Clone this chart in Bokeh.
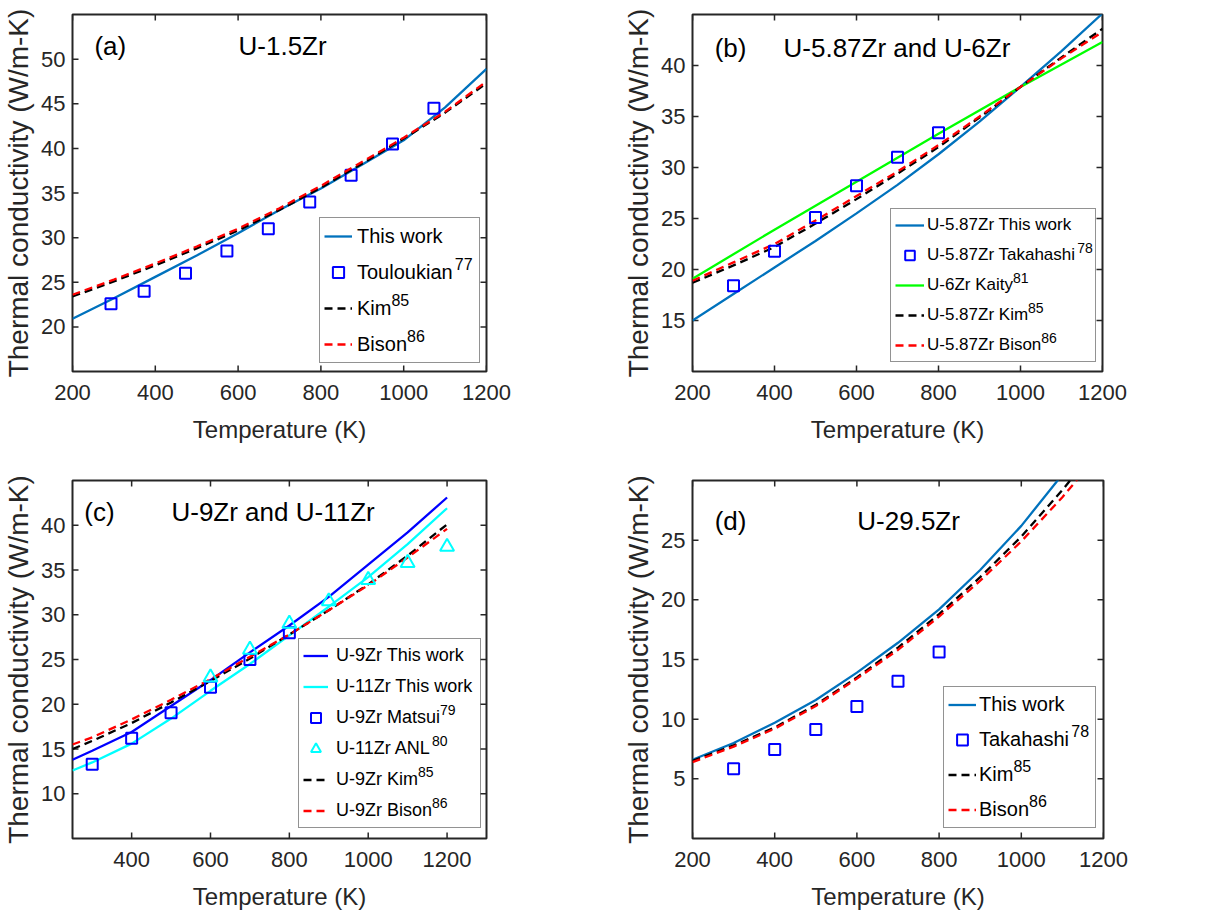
from bokeh.plotting import figure
from bokeh.layouts import row, column
from bokeh.models import Legend, LegendItem, FixedTicker, Label, Range1d
from bokeh.embed import file_html
from bokeh.resources import INLINE

FONT = "Liberation Sans"
AXC = "#262626"
C_TW = "#0072BD"
C_B = "#0000FF"
C_G = "#00FF00"
C_C = "#00FFFF"
C_K = "#000000"
C_R = "#FF0000"
DASH = "8 5"

# ---------------- data ----------------
T_curve = [200, 300, 400, 500, 600, 700, 800, 900, 1000, 1100, 1200]

# (a) U-1.5Zr
a_this_work = [20.9, 23.2, 25.6, 28.0, 30.5, 33.1, 35.5, 38.2, 40.9, 44.6, 48.9]
a_kim = [23.4, 25.1, 26.9, 28.8, 30.8, 33.1, 35.6, 38.3, 41.1, 44.0, 47.3]
a_bison = [23.6, 25.3, 27.1, 29.0, 31.0, 33.3, 35.8, 38.5, 41.2, 44.1, 47.5]
a_toul_T = [293, 373, 473, 573, 673, 773, 873, 973, 1073]
a_toul = [22.6, 24.0, 26.0, 28.5, 31.0, 34.0, 37.0, 40.5, 44.5]

# (b) U-5.87Zr and U-6Zr
b_this_work = [15.0, 17.6, 20.2, 22.8, 25.5, 28.3, 31.3, 34.5, 37.9, 41.4, 45.1]
b_kim = [18.7, 20.4, 22.2, 24.5, 26.9, 29.4, 32.0, 34.9, 37.9, 40.8, 43.6]
b_bison = [18.9, 20.7, 22.5, 24.8, 27.2, 29.6, 32.2, 35.0, 37.9, 40.7, 43.3]
b_kaity_T = [200, 400, 600, 800, 1000, 1200]
b_kaity = [19.1, 23.9, 28.6, 33.3, 37.9, 42.3]
b_taka_T = [300, 400, 500, 600, 700, 800]
b_taka = [18.4, 21.8, 25.1, 28.2, 31.0, 33.4]

# (c) U-9Zr and U-11Zr
T_c = [250, 300, 400, 500, 600, 700, 800, 900, 1000, 1100, 1200]
c_9zr_this_work = [13.8, 14.8, 16.9, 19.8, 22.7, 25.8, 28.8, 32.0, 35.6, 39.2, 43.1]
c_11zr_this_work = [12.6, 13.5, 15.6, 18.4, 21.5, 24.5, 27.7, 30.9, 34.2, 37.9, 41.9]
c_kim = [15.0, 15.9, 17.9, 20.2, 22.6, 25.1, 27.8, 30.5, 33.4, 36.6, 40.1]
c_bison = [15.5, 16.3, 18.3, 20.5, 22.8, 25.3, 27.8, 30.5, 33.3, 36.4, 39.6]
c_matsui_T = [300, 400, 500, 600, 700, 800]
c_matsui = [13.3, 16.2, 19.05, 21.9, 25.0, 28.0]
c_anl_T = [600, 700, 800, 900, 1000, 1100, 1200]
c_anl = [23.0, 26.1, 29.0, 31.5, 33.9, 35.8, 37.6]

# (d) U-29.5Zr
d_this_work = [6.6, 8.0, 9.7, 11.6, 13.9, 16.4, 19.2, 22.5, 26.2, 30.5, 35.0]
d_kim = [6.5, 7.8, 9.3, 11.2, 13.5, 16.0, 18.8, 21.9, 25.3, 29.2, 33.5]
d_bison = [6.4, 7.7, 9.2, 11.1, 13.4, 15.8, 18.6, 21.6, 24.9, 28.6, 32.7]
d_taka_T = [300, 400, 500, 600, 700, 800]
d_taka = [5.84, 7.46, 9.14, 11.07, 13.17, 15.63]

x_ticks_full = [200, 400, 600, 800, 1000, 1200]
x_ticks_c = [400, 600, 800, 1000, 1200]
y_ticks_a = [20, 25, 30, 35, 40, 45, 50]
y_ticks_b = [15, 20, 25, 30, 35, 40]
y_ticks_c = [10, 15, 20, 25, 30, 35, 40]
y_ticks_d = [5, 10, 15, 20, 25]

# Liberation Sans (Arial metrics) advance widths per 1000 em, for legend superscript placement
WIDTHS = {" ": 278, "-": 333, ".": 278, "A": 667, "B": 667, "K": 667, "L": 556, "M": 833,
          "N": 722, "T": 611, "U": 722, "Z": 611, "a": 556, "h": 556, "i": 222, "k": 500,
          "l": 222, "m": 833, "n": 556, "o": 556, "r": 333, "s": 500, "t": 278, "u": 556,
          "w": 722, "y": 500}
TICK_LEN = 6  # px, inward ticks on all four sides


def text_width(s, fs):
    return sum(WIDTHS.get(ch, 556) for ch in s) * fs / 1000.0


class Panel:
    def __init__(self, xr, yr, xt, yt, bl, br, bt, bb, fw, fh):
        self.xr, self.yr, self.fw, self.fh = xr, yr, fw, fh
        self.kx = fw / (xr[1] - xr[0])   # px per data unit
        self.ky = fh / (yr[1] - yr[0])
        p = figure(x_range=Range1d(*xr), y_range=Range1d(*yr), frame_width=fw, frame_height=fh,
                   min_border_left=bl, min_border_right=br, min_border_top=bt, min_border_bottom=bb,
                   output_backend="svg", toolbar_location=None,
                   x_axis_label="Temperature (K)", y_axis_label="Thermal conductivity (W/m-K)")
        p.xgrid.visible = False
        p.ygrid.visible = False
        p.outline_line_color = AXC
        p.outline_line_width = 2
        p.outline_line_alpha = 1
        p.background_fill_color = "white"
        p.border_fill_color = "white"
        xa = p.xaxis[0]
        ya = p.yaxis[0]
        xa.ticker = FixedTicker(ticks=xt)
        ya.ticker = FixedTicker(ticks=yt)
        for ax in (xa, ya):
            ax.axis_line_color = None
            ax.major_tick_in = 0
            ax.major_tick_out = 0
            ax.major_tick_line_color = None
            ax.minor_tick_line_color = None
            ax.major_label_text_font = FONT
            ax.major_label_text_font_size = "22px"
            ax.major_label_text_color = AXC
            ax.axis_label_text_font = FONT
            ax.axis_label_text_font_style = "normal"
            ax.axis_label_text_color = AXC
        xa.major_label_standoff = 13
        xa.axis_label_standoff = 13
        xa.axis_label_text_font_size = "24px"
        ya.major_label_standoff = 7
        ya.axis_label_standoff = 4
        ya.axis_label_text_font_size = "28px"
        # inward tick marks on all four edges of the box
        dy = TICK_LEN / self.ky
        dx = TICK_LEN / self.kx
        x0s, x1s, y0s, y1s = [], [], [], []
        for t in xt:
            x0s += [t, t]
            x1s += [t, t]
            y0s += [yr[0], yr[1]]
            y1s += [yr[0] + dy, yr[1] - dy]
        for t in yt:
            x0s += [xr[0], xr[1]]
            x1s += [xr[0] + dx, xr[1] - dx]
            y0s += [t, t]
            y1s += [t, t]
        p.segment(x0=x0s, y0=y0s, x1=x1s, y1=y1s, line_color=AXC, line_width=1.5)
        self.p = p

    def px_to_data(self, sx, sy):
        return self.xr[0] + sx / self.kx, self.yr[0] + sy / self.ky

    def legend(self, entries, fs, lx, ly, pad, gw, st, lw, ih, sp):
        p = self.p
        items = [LegendItem(label=lab, renderers=[r]) for (lab, sup, r) in entries]
        # no curve passes behind the legend box, so its background can stay transparent
        leg = Legend(items=items, location=(lx, ly),
                     label_text_font=FONT, label_text_font_size=f"{fs}px", label_text_color="#000000",
                     label_height=ih, label_width=lw, glyph_height=ih, glyph_width=gw,
                     spacing=sp, padding=pad, label_standoff=st, margin=0,
                     border_line_color=AXC, border_line_width=1.5, background_fill_color=None)
        p.add_layout(leg, "center")
        n = len(entries)
        H = 2 * pad + n * ih + (n - 1) * sp
        x0 = lx + pad + gw + st
        for i, (lab, sup, r) in enumerate(entries):
            if not sup:
                continue
            cy = ly + H - pad - i * (ih + sp) - ih / 2.0
            dxv, dyv = self.px_to_data(x0 + text_width(lab, fs) + 0.5, cy + 0.5 * fs)
            p.add_layout(Label(x=dxv, y=dyv, text=sup,
                               text_font=FONT, text_font_size=f"{round(0.8 * fs)}px",
                               text_color="#000000", text_baseline="alphabetic"))

    def title(self, tag, title, x_tag, x_title, y):
        for x, t in ((x_tag, tag), (x_title, title)):
            self.p.add_layout(Label(x=x, y=y, text=t, text_font=FONT, text_font_size="26px",
                                    text_color="#000000", text_baseline="middle"))

    def line(self, x, y, color, dash=None, width=2.3):
        if dash:
            return self.p.line(x, y, line_color=color, line_width=width, line_dash=dash)
        return self.p.line(x, y, line_color=color, line_width=width)

    def squares(self, x, y, color=C_B):
        return self.p.scatter(x, y, marker="square", size=11, fill_color=None,
                              line_color=color, line_width=2)


# ---------------- (a) ----------------
A = Panel((200, 1200), (15, 55), x_ticks_full, y_ticks_a, 71, 125, 13, 85, 414, 357)
ra1 = A.line(T_curve, a_this_work, C_TW)
ra2 = A.squares(a_toul_T, a_toul)
ra3 = A.line(T_curve, a_kim, C_K, DASH)
ra4 = A.line(T_curve, a_bison, C_R, DASH)
A.legend([("This work", "", ra1), ("Touloukian", "77", ra2),
          ("Kim", "85", ra3), ("Bison", "86", ra4)],
         20, 247, 8, 4, 28, 5, 118, 28, 8)
A.title("(a)", "U-1.5Zr", 253, 601, 51.5)

# ---------------- (b) ----------------
B = Panel((200, 1200), (10, 45), x_ticks_full, y_ticks_b, 81, 126, 14, 84, 410, 357)
rb1 = B.line(T_curve, b_this_work, C_TW)
rb3 = B.line(b_kaity_T, b_kaity, C_G)
rb4 = B.line(T_curve, b_kim, C_K, DASH)
rb5 = B.line(T_curve, b_bison, C_R, DASH)
rb2 = B.squares(b_taka_T, b_taka)
B.legend([("U-5.87Zr This work", "", rb1), ("U-5.87Zr Takahashi", "78", rb2),
          ("U-6Zr Kaity", "81", rb3), ("U-5.87Zr Kim", "85", rb4),
          ("U-5.87Zr Bison", "86", rb5)],
         17, 198, 9, 4, 29, 3, 164, 24, 6)
B.title("(b)", "U-5.87Zr and U-6Zr", 254, 422, 41.7)

# ---------------- (c) ----------------
C = Panel((250, 1300), (5, 45), x_ticks_c, y_ticks_c, 71, 125, 25, 79, 414, 358)
rc1 = C.line(T_c, c_9zr_this_work, C_B)
rc2 = C.line(T_c, c_11zr_this_work, C_C)
rc5 = C.line(T_c, c_kim, C_K, DASH)
rc6 = C.line(T_c, c_bison, C_R, DASH)
rc3 = C.squares(c_matsui_T, c_matsui)
rc4 = C.p.scatter(c_anl_T, c_anl, marker="triangle", size=14, fill_color=None,
                  line_color=C_C, line_width=2)
C.legend([("U-9Zr This work", "", rc1), ("U-11Zr This work", "", rc2),
          ("U-9Zr Matsui", "79", rc3), ("U-11Zr ANL", "80", rc4),
          ("U-9Zr Kim", "85", rc5), ("U-9Zr Bison", "86", rc6)],
         18, 226, 10, 4, 25, 8, 140, 25, 6)
C.title("(c)", "U-9Zr and U-11Zr", 280, 501, 41.5)

# ---------------- (d) ----------------
D = Panel((200, 1200), (0, 30), x_ticks_full, y_ticks_d, 81, 125, 25, 79, 411, 358)
rd1 = D.line(T_curve, d_this_work, C_TW)
rd3 = D.line(T_curve, d_kim, C_K, DASH)
rd4 = D.line(T_curve, d_bison, C_R, DASH)
rd2 = D.squares(d_taka_T, d_taka)
D.legend([("This work", "", rd1), ("Takahashi", "78", rd2),
          ("Kim", "85", rd3), ("Bison", "86", rd4)],
         20, 251, 10, 4, 28, 3, 112, 27, 8)
D.title("(d)", "U-29.5Zr", 254, 601, 26.6)

layout = column(row(A.p, B.p), row(C.p, D.p))
open("out.html", "w").write(file_html(layout, INLINE))
